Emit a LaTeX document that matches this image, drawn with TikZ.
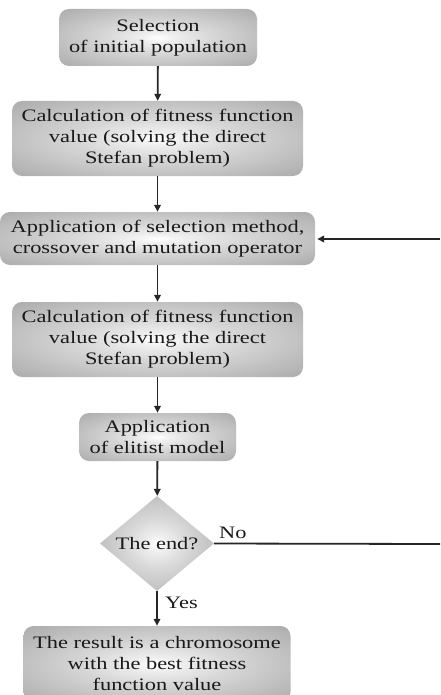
\documentclass[tikz,border=0pt]{standalone}
\usepackage{fontspec}
\setmainfont{Liberation Serif}[FakeStretch=1.28]
\usetikzlibrary{shapes.geometric,arrows.meta}
\pgfdeclareradialshading{boxshade}{\pgfpoint{0bp}{0bp}}{color(0bp)=(white); color(4bp)=(black!6); color(14bp)=(black!16); color(32bp)=(black!30); color(50bp)=(black!46); color(71bp)=(black!56)}
\begin{document}
\begin{tikzpicture}[x=1pt,y=-1pt,
  proc/.style={rectangle, rounded corners=10pt, shading=boxshade, draw=none,
    align=center, inner sep=0pt, text=black!90,
    font=\fontsize{17.5}{21}\selectfont},
  decide/.style={diamond, shading=boxshade, draw=none, inner sep=0pt,
    align=center, text=black!90, font=\fontsize{17.5}{21}\selectfont},
  arr/.style={-{Triangle[length=7pt,width=6.5pt]}, line width=1.8pt, draw=black!85},
  lbl/.style={text=black!90, font=\fontsize{17.5}{21}\selectfont, inner sep=0pt}]
\useasboundingbox (0,0) rectangle (440,695);

\node[proc, minimum width=198pt, minimum height=57pt] (n1) at (158,37.5)
  {Selection\\of initial population};
\node[proc, minimum width=291pt, minimum height=75pt] (n2) at (157.5,138.5)
  {Calculation of fitness function\\value (solving the direct\\Stefan problem)};
\node[proc, minimum width=315pt, minimum height=53pt] (n3) at (157.5,238.5)
  {Application of selection method,\\crossover and mutation operator};
\node[proc, minimum width=291pt, minimum height=75pt] (n4) at (157.5,339.5)
  {Calculation of fitness function\\value (solving the direct\\Stefan problem)};
\node[proc, minimum width=157pt, minimum height=48pt] (n5) at (157.5,437)
  {Application\\of elitist model};
\node[decide, minimum width=114pt, minimum height=93pt] (d) at (157,543.5)
  {The end?};
\node[proc, minimum width=267pt, minimum height=76pt] (n6) at (157,664)
  {The result is a chromosome\\with the best fitness\\function value};

\coordinate (r1) at (440,239);
\coordinate (r2) at (440,544);

\draw[arr] (n1) -- (n2);
\draw[arr] (n2) -- (n3);
\draw[arr] (n3) -- (n4);
\draw[arr] (n4) -- (n5);
\draw[arr] (n5) -- (d);
\draw[arr] (d) -- (n6);
\draw[line width=1.8pt, draw=black!85] (d.east) -- (r2);
\draw[arr] (r1) -- ([xshift=2pt]n3.east |- r1);

\node[lbl, anchor=west] (no) at (219,533) {No};
\node[lbl, anchor=west] (yes) at (165,603) {Yes};
\end{tikzpicture}
\end{document}
